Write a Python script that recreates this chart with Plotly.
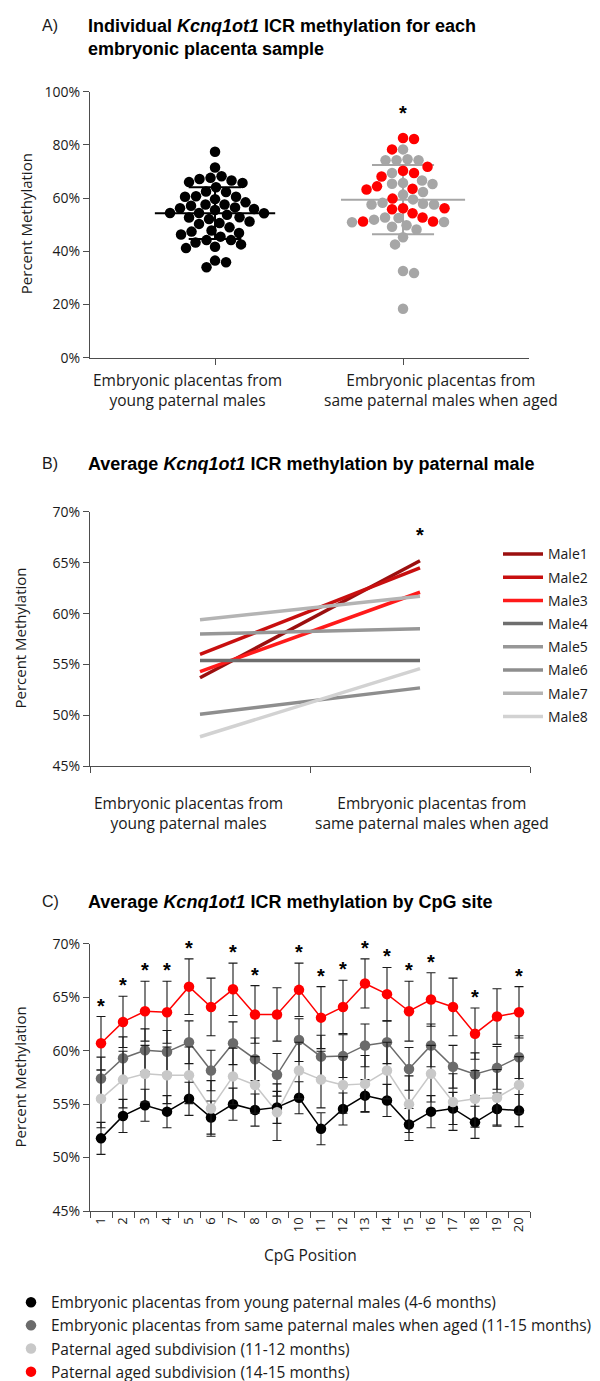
import numpy as np
import plotly.graph_objects as go

W, H = 600, 1381

# ---------------- Panel A data ----------------
young_vals = [77.4, 71.5, 67.6, 66.6, 67.2, 66.0, 68.2, 65.7, 64.1, 62.3, 62.5, 60.5,
              59.6, 60.5, 60.7, 58.4, 57.1, 57.6, 55.9, 54.4, 54.4, 55.5, 54.3, 53.7,
              56.2, 56.5, 57.6, 52.7, 52.8, 52.1, 51.2, 50.6, 50.3, 49.0, 46.9, 47.8,
              46.3, 47.4, 45.5, 44.2, 44.2, 43.3, 42.6, 41.7, 41.2, 36.5, 35.9, 34.0]
aged_red_vals = [82.6, 82.2, 78.3, 71.8, 69.4, 70.3, 68.1, 64.4, 63.5, 63.2, 59.8,
                 56.2, 56.2, 55.8, 54.3, 52.7, 51.2, 51.2]
aged_gray_vals = [78.3, 74.2, 74.2, 74.6, 74.2, 69.4, 65.4, 65.7, 65.3, 66.6, 61.3,
                  62.3, 59.5, 58.2, 57.6, 57.9, 57.6, 52.5, 52.7, 51.0, 50.9, 51.9,
                  49.8, 49.2, 48.2, 45.3, 42.6, 32.6, 31.8, 18.4]
groupsA = ["Embryonic placentas from<br>young paternal males",
           "Embryonic placentas from<br>same paternal males when aged"]
ticksA = [0, 20, 40, 60, 80, 100]

# ---------------- Panel B data ----------------
males = ["Male1", "Male2", "Male3", "Male4", "Male5", "Male6", "Male7", "Male8"]
male_young = [53.7, 56.0, 54.3, 55.4, 58.0, 50.1, 59.4, 47.9]
male_aged = [65.2, 64.5, 62.1, 55.4, 58.5, 52.7, 61.7, 54.6]
male_colors = ["#9b0f0f", "#c80f0f", "#ff1a1a", "#6e6e6e", "#979797", "#8e8e8e", "#b4b4b4", "#d2d2d2"]
ticksB = [45, 50, 55, 60, 65, 70]

# ---------------- Panel C data ----------------
cpg = [str(i) for i in range(1, 21)]
young_c = [51.8, 53.9, 54.9, 54.3, 55.5, 53.75, 55.0, 54.45, 54.7, 55.6,
           52.7, 54.55, 55.8, 55.35, 53.1, 54.3, 54.6, 53.3, 54.55, 54.4]
young_c_err = [1.5, 1.55, 1.5, 1.5, 1.55, 1.55, 1.5, 1.5, 1.5, 1.5,
               1.5, 1.5, 1.5, 1.5, 1.5, 1.5, 1.5, 1.5, 1.5, 1.5]
aged_c = [57.4, 59.3, 60.05, 59.9, 60.8, 58.15, 60.7, 59.2, 57.75, 61.0,
          59.45, 59.5, 60.5, 60.8, 58.3, 60.5, 58.5, 57.8, 58.4, 59.4]
aged_c_err = [2.0, 2.0, 2.0, 2.0, 2.0, 1.9, 2.0, 2.0, 2.0, 2.0,
              2.0, 2.0, 2.0, 2.0, 2.0, 2.0, 2.0, 2.0, 2.0, 2.0]
sub1112_c = [55.5, 57.3, 57.85, 57.7, 57.7, 54.6, 57.6, 56.8, 54.25, 58.15,
             57.3, 56.8, 56.9, 58.15, 55.0, 57.85, 55.2, 55.5, 55.6, 56.8]
sub1112_c_err = [2.7, 2.65, 2.65, 2.65, 2.65, 2.6, 2.65, 2.65, 2.65, 2.65,
                 2.65, 2.65, 2.65, 2.65, 2.65, 2.65, 2.65, 2.65, 2.65, 2.65]
sub1415_c = [60.7, 62.7, 63.7, 63.6, 66.0, 64.1, 65.75, 63.4, 63.4, 65.7,
             63.1, 64.1, 66.3, 65.3, 63.7, 64.8, 64.1, 61.6, 63.2, 63.6]
sub1415_c_err = [2.5, 2.4, 2.8, 2.9, 2.6, 2.7, 2.45, 2.7, 2.5, 2.5,
                 2.9, 2.5, 2.3, 2.5, 2.8, 2.5, 2.7, 2.4, 2.6, 2.4]
signif_c = [1, 1, 1, 1, 1, 0, 1, 1, 0, 1, 1, 1, 1, 1, 1, 1, 0, 1, 0, 1]
ticksC = [45, 50, 55, 60, 65, 70]
seriesC_names = ["Embryonic placentas from young paternal males (4-6 months)",
                 "Embryonic placentas from same paternal males when aged (11-15 months)",
                 "Paternal aged subdivision (11-12 months)",
                 "Paternal aged subdivision (14-15 months)"]

# ---------------- helpers ----------------
def py(y):
    return 1 - y / H

def px(x):
    return x / W

CAL = "Open Sans, Lato, sans-serif"
ARIAL = "Liberation Sans, Arial, sans-serif"
TXT = "#1a1a1a"
AX = "#4d4d4d"

# panel A geometry (pixels)
A_x0, A_x1 = 82, 521
A_ytop, A_ybot = 75, 346
A_range = [-0.665, 1.670]
unitA = (A_x1 - A_x0) / (A_range[1] - A_range[0])
pxpercentA = (A_ybot - A_ytop) / 100.0
DOT = 10.5


def beeswarm(values, d):
    vals = np.asarray(values, dtype=float)
    order = np.argsort(-vals, kind="stable")
    placed = []
    offs = np.zeros(len(vals))
    cands = np.arange(0, 120, 0.5)
    nleft = nright = 0
    for i in order:
        ypx = vals[i] * pxpercentA
        chosen = None
        for c in cands:
            sides = [0.0] if c == 0 else ([c, -c] if nright <= nleft else [-c, c])
            for s in sides:
                if all((s - a) ** 2 + (ypx - b) ** 2 >= d * d for a, b in placed):
                    chosen = s
                    break
            if chosen is not None:
                break
        placed.append((chosen, ypx))
        if chosen > 0:
            nright += 1
        elif chosen < 0:
            nleft += 1
        offs[i] = chosen
    return offs / unitA


def pct(vals):
    return [f"{v}%" for v in vals]


fig = go.Figure()

# ---- Panel A ----
young_x = 0 + beeswarm(young_vals, 10.8)
aged_all = aged_gray_vals + aged_red_vals
aged_off = beeswarm(aged_all, 10.8)
aged_gray_x = 1 + aged_off[:len(aged_gray_vals)]
aged_red_x = 1 + aged_off[len(aged_gray_vals):]


def mean_sd_path(center, vals, half_mean, half_cap):
    m = float(np.mean(vals))
    s = float(np.std(vals, ddof=1))
    xs = [center - half_mean, center + half_mean, None,
          center, center, None,
          center - half_cap, center + half_cap, None,
          center - half_cap, center + half_cap]
    ys = [m, m, None, m - s, m + s, None, m + s, m + s, None, m - s, m - s]
    return xs, ys


xs, ys = mean_sd_path(1, aged_all, 0.33, 0.165)
fig.add_trace(go.Scatter(x=xs, y=ys, mode="lines", line=dict(color="#a6a6a6", width=2),
                         xaxis="x", yaxis="y", showlegend=False, hoverinfo="skip"))
fig.add_trace(go.Scatter(x=young_x, y=young_vals, mode="markers",
                         marker=dict(color="black", size=DOT), xaxis="x", yaxis="y",
                         showlegend=False))
fig.add_trace(go.Scatter(x=aged_gray_x, y=aged_gray_vals, mode="markers",
                         marker=dict(color="#a6a6a6", size=DOT), xaxis="x", yaxis="y",
                         showlegend=False))
fig.add_trace(go.Scatter(x=aged_red_x, y=aged_red_vals, mode="markers",
                         marker=dict(color="#ff0000", size=DOT), xaxis="x", yaxis="y",
                         showlegend=False))
xs, ys = mean_sd_path(0, young_vals, 0.32, 0.14)
fig.add_trace(go.Scatter(x=xs, y=ys, mode="lines", line=dict(color="black", width=2),
                         xaxis="x", yaxis="y", showlegend=False, hoverinfo="skip"))

# ---- Panel B ----
for name, y0, y1, col in zip(males, male_young, male_aged, male_colors):
    fig.add_trace(go.Scatter(x=[0, 1], y=[y0, y1], mode="lines", name=name,
                             line=dict(color=col, width=3.5), xaxis="x2", yaxis="y2",
                             legend="legend2", legendgroup=name))

# ---- Panel C ----
c_series = [(young_c, young_c_err, "#000000"),
            (aged_c, aged_c_err, "#6b6b6b"),
            (sub1112_c, sub1112_c_err, "#c8c8c8"),
            (sub1415_c, sub1415_c_err, "#ff0000")]
for (vals, err, col), nm in zip(c_series, seriesC_names):
    fig.add_trace(go.Scatter(x=cpg, y=vals, mode="lines", line=dict(color=col, width=1.5),
                             xaxis="x3", yaxis="y3", showlegend=False, hoverinfo="skip"))
for (vals, err, col), nm in zip(c_series, seriesC_names):
    fig.add_trace(go.Scatter(x=cpg, y=vals, mode="markers", name=nm,
                             marker=dict(color=col, size=10.5),
                             error_y=dict(type="data", array=err, visible=True,
                                          color="#1a1a1a", thickness=1.1, width=4.5),
                             xaxis="x3", yaxis="y3", legend="legend", legendgroup=nm))

annotations = []
# panel letters and titles
for letter, ytxt, title in [
    ("A)", 8, "<b>Individual <i>Kcnq1ot1</i> ICR methylation for each<br>embryonic placenta sample</b>"),
    ("B)", 454, "<b>Average <i>Kcnq1ot1</i> ICR methylation by paternal male</b>"),
    ("C)", 900, "<b>Average <i>Kcnq1ot1</i> ICR methylation by CpG site</b>"),
]:
    annotations.append(dict(text=letter, x=px(32), y=py(ytxt), xref="paper", yref="paper",
                            xanchor="left", yanchor="middle", showarrow=False,
                            font=dict(family=ARIAL, size=16, color=TXT)))
    annotations.append(dict(text=title, x=px(78), y=py(ytxt - 12), xref="paper", yref="paper",
                            xanchor="left", yanchor="top", align="left", showarrow=False,
                            font=dict(family=ARIAL, size=18, color="black")))

# y axis titles
for ycen, xcen in [(210, 18), (632, 12), (1079, 12)]:
    annotations.append(dict(text="Percent Methylation", x=px(xcen), y=py(ycen), xref="paper",
                            yref="paper", textangle=-90, showarrow=False,
                            xanchor="center", yanchor="middle",
                            font=dict(family=CAL, size=15, color=TXT)))

# category labels A and B
for i, lab in enumerate(groupsA):
    annotations.append(dict(text=lab, x=i, xref="x", y=py(355), yref="paper",
                            xshift=(-28 if i == 0 else 38), yanchor="top", xanchor="center",
                            showarrow=False, font=dict(family=CAL, size=15.5, color=TXT)))
    annotations.append(dict(text=lab, x=i, xref="x2", y=py(786), yref="paper",
                            xshift=(-12 if i == 0 else 12), yanchor="top", xanchor="center",
                            showarrow=False, font=dict(family=CAL, size=15.5, color=TXT)))

# asterisks
annotations.append(dict(text="<b>*</b>", x=1, xref="x", y=92, yref="y", showarrow=False,
                        font=dict(family=ARIAL, size=20, color="black")))
annotations.append(dict(text="<b>*</b>", x=1, xref="x2", y=max(male_aged), yref="y2",
                        yshift=26, showarrow=False,
                        font=dict(family=ARIAL, size=20, color="black")))
for i, s in enumerate(signif_c):
    if s:
        # category axis: annotation x given as the category index
        annotations.append(dict(text="<b>*</b>", x=i, xref="x3",
                                y=sub1415_c[i] + sub1415_c_err[i], yref="y3", yshift=11,
                                showarrow=False,
                                font=dict(family=ARIAL, size=20, color="black")))

annotations.append(dict(text="CpG Position", x=px(302), y=py(1260), xref="paper", yref="paper",
                        showarrow=False, xanchor="center", yanchor="middle",
                        font=dict(family=CAL, size=15.5, color=TXT)))

axis_common = dict(showgrid=False, zeroline=False, showline=True, linecolor=AX, linewidth=1.3,
                   ticks="outside", tickcolor=AX, ticklen=6, tickwidth=1.2,
                   tickfont=dict(family=CAL, size=14, color=TXT))

fig.update_layout(
    width=W, height=H, margin=dict(l=0, r=0, t=0, b=0),
    paper_bgcolor="white", plot_bgcolor="white",
    xaxis=dict(domain=[px(A_x0), px(A_x1)], range=A_range, tickvals=[0, 1],
               showticklabels=False, anchor="y", **axis_common),
    yaxis=dict(domain=[py(A_ybot), py(A_ytop)], range=[0, 100], tickvals=ticksA,
               ticktext=pct(ticksA), anchor="x", **axis_common),
    xaxis2=dict(domain=[px(82), px(522)], range=[-0.5, 1.5], tickvals=[-0.5, 0.5, 1.5],
                showticklabels=False, anchor="y2", **axis_common),
    yaxis2=dict(domain=[py(762), py(503)], range=[45, 70], tickvals=ticksB,
                ticktext=pct(ticksB), anchor="x2", **axis_common),
    xaxis3=dict(domain=[px(82), px(522)], type="category", categoryorder="array",
                categoryarray=cpg, range=[-0.5, 19.5],
                tickson="boundaries", tickangle=-90, anchor="y3",
                **{k: v for k, v in axis_common.items() if k != "tickfont"},
                tickfont=dict(family=CAL, size=13, color=TXT)),
    yaxis3=dict(domain=[py(1215), py(943)], range=[45, 70], tickvals=ticksC,
                ticktext=pct(ticksC), anchor="x3", **axis_common),
    legend=dict(x=px(3), y=py(1291), xanchor="left", yanchor="top",
                font=dict(family=CAL, size=15.5, color=TXT), tracegroupgap=0,
                bgcolor="rgba(0,0,0,0)"),
    legend2=dict(x=px(490), y=py(530), xanchor="left", yanchor="top", itemwidth=40,
                 font=dict(family=CAL, size=14, color=TXT), tracegroupgap=2,
                 bgcolor="rgba(0,0,0,0)"),
    annotations=annotations,
)

fig.write_html("out.html")
